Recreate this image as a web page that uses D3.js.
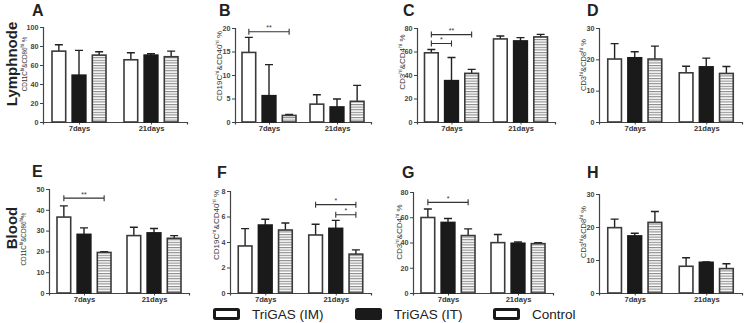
<!DOCTYPE html>
<html>
<head>
<meta charset="utf-8">
<script src="https://cdn.jsdelivr.net/npm/d3@7"></script>
<style>
  body { margin: 0; background: #fff; }
  svg { display: block; font-family: Arial, "Liberation Sans", sans-serif; }
</style>
</head>
<body>
<script>
// groups and series
const groups = ["7days", "21days"];
const series = ["TriGAS (IM)", "TriGAS (IT)", "Control"];

// means / SD, [7days, 21days] x [IM, IT, Control]
const meanA = [[74.6, 49.3, 70.4], [65.5, 70.4, 68.7]];
const errA  = [[6.7, 26.1, 3.6], [7.4, 1.4, 5.9]];
const meanB = [[14.8, 5.6, 1.4], [3.8, 3.2, 4.4]];
const errB  = [[3.2, 6.6, 0.2], [2.0, 1.7, 3.4]];
const meanC = [[58.9, 35.2, 41.4], [70.7, 69.0, 72.4]];
const errC  = [[2.8, 19.7, 3.4], [2.5, 2.8, 2.2]];
const meanD = [[20.1, 20.5, 20.1], [15.7, 17.6, 15.5]];
const errD  = [[4.9, 1.9, 4.1], [2.1, 2.8, 2.2]];
const meanE = [[36.5, 28.2, 19.5], [27.6, 28.9, 26.3]];
const errE  = [[5.4, 3.1, 0.3], [4.0, 2.1, 1.3]];
const meanF = [[3.69, 5.33, 4.94], [4.55, 5.07, 3.05]];
const errF  = [[1.36, 0.45, 0.55], [0.84, 0.63, 0.33]];
const meanG = [[59.8, 55.9, 45.5], [39.9, 39.4, 39.1]];
const errG  = [[6.7, 3.1, 5.3], [6.4, 1.0, 0.8]];
const meanH = [[19.8, 17.3, 21.4], [8.1, 9.3, 7.4]];
const errH  = [[2.6, 0.8, 3.3], [2.6, 0.1, 1.45]];

// y axis max and tick step
const yMax  = [100, 20, 80, 30, 50, 8, 80, 30];
const yStep = [20, 5, 20, 10, 10, 2, 20, 10];

// y axis titles: [main, sup, main, sup, tail]
const yTitles = [
  ["CD11C", "hi", "&CD86", "hi", " %"],
  ["CD19C", "hi", "&CD40", "hi", " %"],
  ["CD3", "hi", "&CD4", "hi", " %"],
  ["CD3", "hi", "&CD8", "hi", " %"],
  ["CD11C", "hi", "&CD86", "hi", "%"],
  ["CD19C", "hi", "&CD40", "hi", " %"],
  ["CD3", "hi", "&CD4", "hi", " %"],
  ["CD3", "hi", "&CD8", "hi", " %"]
];

// significance brackets: panel, group, from series, to series, y value, label
const sigPanel = ["B", "C", "C", "E", "F", "F", "G"];
const sigGroup = [0, 0, 0, 0, 1, 1, 0];
const sigFrom  = [0, 0, 0, 0, 0, 1, 0];
const sigTo    = [2, 1, 2, 2, 2, 2, 2];
const sigY     = [19.2, 66.8, 74.4, 45.6, 6.93, 6.14, 71.8];
const sigLabel = ["**", "*", "**", "**", "*", "*", "*"];

const rowLabels = ["Lymphnode", "Blood"];

const W = 749, H = 323;
const ids = ["A", "B", "C", "D", "E", "F", "G", "H"];
const means = [meanA, meanB, meanC, meanD, meanE, meanF, meanG, meanH];
const errs = [errA, errB, errC, errD, errE, errF, errG, errH];

// panel geometry (lx = baseline of the rotated y title)
const layout = [
  {x0: 43, x1: 187, yTop: 27, yBot: 122, lx: 27, ly: 64, fs: 6.3, letX: 32, letY: 16},
  {x0: 235, x1: 371, yTop: 28, yBot: 122, lx: 222, ly: 66, fs: 8, letX: 219, letY: 16},
  {x0: 417, x1: 555, yTop: 28, yBot: 122, lx: 405, ly: 62, fs: 8, letX: 403, letY: 16},
  {x0: 599, x1: 742, yTop: 28, yBot: 122, lx: 586, ly: 65, fs: 7.5, letX: 587, letY: 16},
  {x0: 49, x1: 189, yTop: 189, yBot: 293, lx: 26, ly: 239, fs: 6.3, letX: 32, letY: 177},
  {x0: 230, x1: 371, yTop: 191, yBot: 293, lx: 219, ly: 225, fs: 8, letX: 217, letY: 178},
  {x0: 413, x1: 553, yTop: 192, yBot: 293, lx: 402, ly: 232, fs: 8, letX: 402, letY: 178},
  {x0: 599, x1: 742, yTop: 194, yBot: 293, lx: 586, ly: 232, fs: 7.5, letX: 587, letY: 178}
];

const svg = d3.select("body").append("svg")
  .attr("width", W)
  .attr("height", H);

svg.append("rect").attr("width", W).attr("height", H).attr("fill", "#fff");

// horizontal stripes for Control
const pat = svg.append("defs").append("pattern")
  .attr("id", "hatch")
  .attr("patternUnits", "userSpaceOnUse")
  .attr("width", 6).attr("height", 2.6);
pat.append("rect").attr("width", 6).attr("height", 2.6).attr("fill", "#fff");
pat.append("rect").attr("y", 0).attr("width", 6).attr("height", 1.1).attr("fill", "#8a8a8a");

const fills = ["#fff", "#1a1a1a", "url(#hatch)"];

// row labels
rowLabels.forEach(function (t, i) {
  svg.append("text")
    .attr("transform", "translate(17," + (i === 0 ? 64 : 228) + ") rotate(-90)")
    .attr("text-anchor", "middle")
    .attr("font-size", 15)
    .attr("font-weight", "bold")
    .attr("fill", "#222")
    .text(t);
});

ids.forEach(function (id, p) {
  const L = layout[p];
  const g = svg.append("g");

  const y = d3.scaleLinear().domain([0, yMax[p]]).range([L.yBot, L.yTop]);
  const x = d3.scalePoint().domain(groups).range([L.x0, L.x1]).padding(0.5);
  const xs = d3.scaleBand().domain(series).range([-27, 27]).paddingInner(0.32);

  // panel letter
  g.append("text")
    .attr("x", L.letX).attr("y", L.letY)
    .attr("font-size", 16).attr("font-weight", "bold").attr("fill", "#222")
    .text(id);

  // y axis
  const yAxis = g.append("g")
    .attr("transform", "translate(" + L.x0 + ",0)")
    .call(d3.axisLeft(y).tickValues(d3.range(0, yMax[p] + 0.001, yStep[p])).tickSize(3).tickPadding(1.5));
  yAxis.select(".domain").attr("stroke", "#444").attr("stroke-width", 1.2);
  yAxis.selectAll(".tick line").attr("stroke", "#444");
  yAxis.selectAll(".tick text").attr("font-size", 7.2).attr("font-weight", "bold").attr("fill", "#444")
    .attr("font-family", "Arial, 'Liberation Sans', sans-serif");

  // x axis
  const xAxis = g.append("g")
    .attr("transform", "translate(0," + L.yBot + ")")
    .call(d3.axisBottom(x).tickSize(2.5).tickPadding(1.5));
  xAxis.select(".domain").attr("stroke", "#444").attr("stroke-width", 1.2);
  xAxis.selectAll(".tick line").attr("stroke", "#444");
  xAxis.selectAll(".tick text").attr("font-size", 7.6).attr("font-weight", "bold").attr("fill", "#333")
    .attr("font-family", "Arial, 'Liberation Sans', sans-serif");

  // y title
  const t = yTitles[p];
  const yt = g.append("text")
    .attr("transform", "translate(" + L.lx + "," + L.ly + ") rotate(-90)")
    .attr("text-anchor", "middle")
    .attr("font-size", L.fs)
    .attr("fill", "#333");
  yt.append("tspan").text(t[0]);
  yt.append("tspan").attr("font-size", L.fs * 0.7).attr("dy", -L.fs * 0.4).text(t[1]);
  yt.append("tspan").attr("dy", L.fs * 0.4).text(t[2]);
  yt.append("tspan").attr("font-size", L.fs * 0.7).attr("dy", -L.fs * 0.4).text(t[3]);
  yt.append("tspan").attr("dy", L.fs * 0.4).text(t[4]);

  // bars
  const rows = [];
  groups.forEach(function (gr, gi) {
    series.forEach(function (s, si) {
      rows.push({group: gr, series: s, si: si, mean: means[p][gi][si], err: errs[p][gi][si]});
    });
  });

  const bw = xs.bandwidth();
  const bx = function (d) { return x(d.group) + xs(d.series); };

  g.selectAll(".err")
    .data(rows)
    .enter().append("path")
    .attr("fill", "none")
    .attr("stroke", "#222")
    .attr("stroke-width", 1.4)
    .attr("d", function (d) {
      const cx = bx(d) + bw / 2, y1 = y(d.mean), y2 = y(d.mean + d.err);
      return "M" + cx + "," + y1 + "V" + y2 + "M" + (cx - 4) + "," + y2 + "H" + (cx + 4);
    });

  g.selectAll(".bar")
    .data(rows)
    .enter().append("rect")
    .attr("x", bx)
    .attr("width", bw)
    .attr("y", function (d) { return y(d.mean); })
    .attr("height", function (d) { return y(0) - y(d.mean); })
    .attr("fill", function (d) { return fills[d.si]; })
    .attr("stroke", function (d) { return d.si === 1 ? "#1a1a1a" : "#3a3a3a"; })
    .attr("stroke-width", 1.6);

  // significance
  sigPanel.forEach(function (sp, k) {
    if (sp !== id) return;
    const gr = groups[sigGroup[k]];
    const xa = x(gr) + xs(series[sigFrom[k]]) + bw / 2;
    const xb = x(gr) + xs(series[sigTo[k]]) + bw / 2;
    const yy = y(sigY[k]);
    g.append("path")
      .attr("fill", "none").attr("stroke", "#333").attr("stroke-width", 1.1)
      .attr("d", "M" + xa + "," + (yy - 3) + "V" + (yy + 3) + "M" + xa + "," + yy + "H" + xb +
        "M" + xb + "," + (yy - 3) + "V" + (yy + 3));
    g.append("text")
      .attr("x", (xa + xb) / 2).attr("y", yy - 1.5)
      .attr("text-anchor", "middle").attr("font-size", 7).attr("fill", "#333")
      .text(sigLabel[k]);
  });
});

// legend
const legX = [213, 355, 493];
const legend = svg.append("g");
series.forEach(function (s, i) {
  legend.append("rect")
    .attr("x", legX[i] + 1.5).attr("y", 309.5)
    .attr("width", 24).attr("height", 9)
    .attr("rx", 1)
    .attr("fill", i === 1 ? "#1a1a1a" : "#fff")
    .attr("stroke", "#1a1a1a")
    .attr("stroke-width", 3);
  legend.append("text")
    .attr("x", legX[i] + 39).attr("y", 319)
    .attr("font-size", 13.5)
    .attr("fill", "#222")
    .text(s);
});
</script>
</body>
</html>
